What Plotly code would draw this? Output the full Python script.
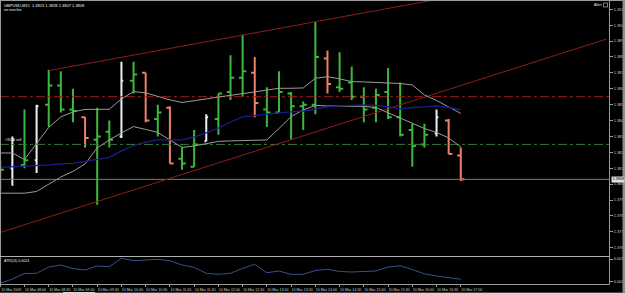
import plotly.graph_objects as go

W, H = 625, 293

# ---------------- data ----------------
symbol = "GBPUSD,M15"
times = ["07:30", "07:45", "08:00", "08:15", "08:30", "08:45", "09:00", "09:15", "09:30", "09:45",
         "10:00", "10:15", "10:30", "10:45", "11:00", "11:15", "11:30", "11:45", "12:00", "12:15",
         "12:30", "12:45", "13:00", "13:15", "13:30", "13:45", "14:00", "14:15", "14:30", "14:45",
         "15:00", "15:15", "15:30", "15:45", "16:00", "16:15", "16:30", "16:45", "17:00"]

opens = [1.3806, 1.3815, 1.3817, 1.3820, 1.3855, 1.3867, 1.3852, 1.3847, 1.3833, 1.3838,
         1.3835, 1.3870, 1.3875, 1.3846, 1.3853, 1.3821, 1.3816, 1.3832, 1.3846, 1.3863,
         1.3872, 1.3875, 1.3852, 1.3850, 1.3862, 1.3854, 1.3855, 1.3884, 1.3866, 1.3869,
         1.3860, 1.3853, 1.3863, 1.3847, 1.3839, 1.3830, 1.3837, 1.3845, 1.3823]
highs = [1.3820, 1.3835, 1.3852, 1.3855, 1.3877, 1.3876, 1.3865, 1.3847, 1.3853, 1.3845,
         1.3882, 1.3882, 1.3875, 1.3855, 1.3854, 1.3828, 1.3839, 1.3849, 1.3862, 1.3886,
         1.3899, 1.3885, 1.3866, 1.3876, 1.3863, 1.3857, 1.3907, 1.3889, 1.3888, 1.3879,
         1.3866, 1.3865, 1.3878, 1.3869, 1.3843, 1.3843, 1.3852, 1.3846, 1.3828]
lows = [1.3801, 1.3804, 1.3815, 1.3812, 1.3841, 1.3850, 1.3844, 1.3828, 1.3792, 1.3828,
        1.3834, 1.3862, 1.3844, 1.3835, 1.3818, 1.3814, 1.3816, 1.3832, 1.3836, 1.3858,
        1.3860, 1.3847, 1.3841, 1.3850, 1.3833, 1.3839, 1.3849, 1.3862, 1.3863, 1.3858,
        1.3844, 1.3844, 1.3846, 1.3835, 1.3816, 1.3828, 1.3835, 1.3824, 1.3807]
closes = [1.3814, 1.3833, 1.3820, 1.3854, 1.3867, 1.3852, 1.3851, 1.3834, 1.3835, 1.3833,
          1.3870, 1.3874, 1.3845, 1.3850, 1.3818, 1.3818, 1.3830, 1.3847, 1.3862, 1.3872,
          1.3876, 1.3856, 1.3850, 1.3863, 1.3854, 1.3855, 1.3885, 1.3868, 1.3865, 1.3860,
          1.3852, 1.3861, 1.3847, 1.3836, 1.3829, 1.3836, 1.3847, 1.3824, 1.3808]
# bar colouring: g = normal, w = white highlighted, o = orange highlighted
bar_style = ["g", "w", "g", "w", "g", "g", "g", "o", "g", "g",
             "w", "g", "o", "g", "o", "g", "g", "w", "g", "g",
             "g", "o", "g", "g", "g", "g", "g", "o", "g", "g",
             "g", "g", "g", "g", "g", "g", "w", "o", "o"]

band_upper = [1.38246, 1.38246, 1.38205, 1.38309, 1.38407, 1.38473, 1.38504, 1.38520, 1.38521, 1.38521,
              1.38586, 1.38632, 1.38624, 1.38602, 1.38580, 1.38564, 1.38573, 1.38586, 1.38598, 1.38608,
              1.38617, 1.38630, 1.38642, 1.38653, 1.38653, 1.38655, 1.38716, 1.38726, 1.38712, 1.38695,
              1.38693, 1.38691, 1.38688, 1.38683, 1.38674, 1.38611, 1.38576, 1.38536, 1.38495]
band_lower = [1.37993, 1.37993, 1.37993, 1.38004, 1.38048, 1.38095, 1.38130, 1.38177, 1.38278, 1.38328,
              1.38372, 1.38412, 1.38394, 1.38375, 1.38328, 1.38281, 1.38290, 1.38306, 1.38319, 1.38322,
              1.38325, 1.38328, 1.38328, 1.38400, 1.38475, 1.38517, 1.38545, 1.38542, 1.38542, 1.38540,
              1.38539, 1.38532, 1.38498, 1.38469, 1.38432, 1.38400, 1.38375, 1.38341, 1.38284]
ma_blue = [1.38156, 1.38159, 1.38163, 1.38166, 1.38171, 1.38177, 1.38181, 1.38193, 1.38205, 1.38218,
           1.38259, 1.38293, 1.38315, 1.38328, 1.38328, 1.38328, 1.38347, 1.38372, 1.38403, 1.38441,
           1.38473, 1.38482, 1.38488, 1.38498, 1.38504, 1.38510, 1.38523, 1.38536, 1.38542, 1.38546,
           1.38548, 1.38545, 1.38537, 1.38523, 1.38532, 1.38536, 1.38542, 1.38532, 1.38519]
atr = [0.002238, 0.002443, 0.002706, 0.002716, 0.003017, 0.003113, 0.002946, 0.002874, 0.003065, 0.003032,
       0.003433, 0.003319, 0.003352, 0.003386, 0.003319, 0.003113, 0.003003, 0.002716, 0.002668, 0.002716,
       0.002955, 0.003147, 0.002745, 0.002826, 0.002668, 0.002668, 0.002850, 0.002907, 0.002802, 0.002778,
       0.002802, 0.002826, 0.003017, 0.003080, 0.002898, 0.002692, 0.002587, 0.002525, 0.002429]

# trend lines (bar index, price)
upper_trend_x = [4, 40]
upper_trend_y = [1.38764, 1.39267]
lower_trend_x = [0, 50]
lower_trend_y = [1.37746, 1.38962]
level_red = 1.3860
level_green = 1.3830
order_label = "#3550 sell"

price_ticks = [1.3765, 1.3775, 1.3785, 1.3795, 1.3805, 1.3815, 1.3825, 1.3835, 1.3845,
               1.3855, 1.3865, 1.3875, 1.3885, 1.3895, 1.3905, 1.3915]
atr_ticks = [0.0023, 0.0034]
date_label = "10 Mar"
year_label = "2009"

# ---------------- styling ----------------
FONT = "Liberation Sans"
TXT = "#d0d0d0"
FRAME = "#9a9a9a"
COL = {"g": "#3cb93c", "w": "#e8f0fc", "o": "#ec806a"}

def px_x(px):
    return px / W

def px_y(py):
    return (H - py) / H

x_idx = list(range(len(times)))
x_lo, x_hi = -0.02, 50.23
main_dom = [px_y(256), px_y(1)]
atr_dom = [px_y(284), px_y(257)]
plot_right = 609

fig = go.Figure()

# horizontal levels
bid = closes[-1]
for lvl, col, dash in [(level_red, "#9a1e1e", "dashdot"), (level_green, "#357a35", "dashdot"), (bid, "#7a7a7a", "solid")]:
    fig.add_trace(go.Scatter(x=[x_lo, x_hi], y=[lvl, lvl], mode="lines",
                             line=dict(color=col, width=1, dash=dash), hoverinfo="skip",
                             xaxis="x", yaxis="y", showlegend=False))

# trend lines
for tx, ty in [(upper_trend_x, upper_trend_y), (lower_trend_x, lower_trend_y)]:
    fig.add_trace(go.Scatter(x=tx, y=ty, mode="lines", line=dict(color="#8e1c1c", width=1),
                             xaxis="x", yaxis="y", showlegend=False))

# bands and MA
for series, col, w in [(band_upper, "#9c9c9c", 1), (band_lower, "#9c9c9c", 1), (ma_blue, "#1c1c92", 1.3)]:
    fig.add_trace(go.Scatter(x=x_idx, y=series, mode="lines", line=dict(color=col, width=w),
                             xaxis="x", yaxis="y", showlegend=False))

# bars
for key in ["g", "w", "o"]:
    idx = [i for i, s in enumerate(bar_style) if s == key]
    diffs = [b - a for a, b in zip(idx[:-1], idx[1:])]
    mind = min(diffs) if diffs else 1
    fig.add_trace(go.Ohlc(
        x=idx, open=[opens[i] for i in idx], high=[highs[i] for i in idx],
        low=[lows[i] for i in idx], close=[closes[i] for i in idx],
        increasing=dict(line=dict(color=COL[key], width=2)),
        decreasing=dict(line=dict(color=COL[key], width=2)),
        tickwidth=0.3 / mind, xaxis="x", yaxis="y", showlegend=False))

# ATR
fig.add_trace(go.Scatter(x=x_idx, y=atr, mode="lines", line=dict(color="#34548c", width=1),
                         xaxis="x2", yaxis="y2", showlegend=False))

tick_vals = x_idx[::2]
tick_text = [f"{date_label} {year_label}" if i == 0 else f"{date_label} {times[i]}" for i in tick_vals]

fig.update_layout(
    width=W, height=H, autosize=False,
    margin=dict(l=0, r=0, t=0, b=0),
    paper_bgcolor="#000000", plot_bgcolor="#000000",
    font=dict(family=FONT, color=TXT, size=4),
    xaxis=dict(domain=[0, px_x(plot_right)], range=[x_lo, x_hi], anchor="y",
               showticklabels=False, showgrid=False, zeroline=False, ticks="",
               rangeslider=dict(visible=False)),
    xaxis2=dict(domain=[0, px_x(plot_right)], range=[x_lo, x_hi], anchor="y2", matches="x",
                tickvals=tick_vals, ticktext=tick_text, ticks="outside", ticklen=2,
                tickcolor=FRAME, tickfont=dict(size=3.6, color=TXT, family=FONT),
                ticklabelshift=11, ticklabelstandoff=0,
                showgrid=False, zeroline=False, rangeslider=dict(visible=False)),
    yaxis=dict(domain=main_dom, range=[1.37598, 1.39202], side="right", anchor="x",
               tickvals=price_ticks, ticktext=[f"{v:.4f}" for v in price_ticks],
               ticks="outside", ticklen=3, tickcolor=FRAME,
               tickfont=dict(size=3.8, color=TXT, family=FONT),
               showgrid=False, zeroline=False),
    yaxis2=dict(domain=atr_dom, range=[0.002204, 0.003496], side="right", anchor="x2",
                tickvals=atr_ticks, ticktext=[f"{v:.4f}" for v in atr_ticks],
                ticks="outside", ticklen=3, tickcolor=FRAME,
                tickfont=dict(size=3.8, color=TXT, family=FONT),
                showgrid=False, zeroline=False),
)

shapes = []
def hline(py, x0, x1, col=FRAME):
    shapes.append(dict(type="line", xref="paper", yref="paper", x0=px_x(x0), x1=px_x(x1),
                       y0=px_y(py), y1=px_y(py), line=dict(color=col, width=1), layer="above"))
def vline(px, y0, y1, col=FRAME):
    shapes.append(dict(type="line", xref="paper", yref="paper", x0=px_x(px), x1=px_x(px),
                       y0=px_y(y0), y1=px_y(y1), line=dict(color=col, width=1), layer="above"))

hline(0.5, 0, W)
vline(0.5, 0, 284.5)
vline(plot_right + 0.5, 0, 284.5)
hline(256.5, 0, plot_right + 0.5, "#b0b0b0")
hline(284.5, 0, plot_right + 0.5)
# window edges
shapes.append(dict(type="rect", xref="paper", yref="paper", x0=px_x(622.5), x1=1, y0=0, y1=1,
                   fillcolor="#8c8c8c", line=dict(width=0), layer="above"))
shapes.append(dict(type="rect", xref="paper", yref="paper", x0=0, x1=px_x(622.5), y0=0, y1=px_y(292),
                   fillcolor="#4a4a4a", line=dict(width=0), layer="above"))
shapes.append(dict(type="rect", xref="paper", yref="paper", x0=px_x(63), x1=px_x(95), y0=0, y1=px_y(292),
                   fillcolor="#d8d8d8", line=dict(width=0), layer="above"))
# alert box icon
shapes.append(dict(type="rect", xref="paper", yref="paper", x0=px_x(603.5), x1=px_x(607.5),
                   y0=px_y(7), y1=px_y(3), line=dict(color=TXT, width=0.6), layer="above"))
fig.update_layout(shapes=shapes)

ohlc_text = " ".join(f"{v:.4f}" for v in [opens[-1], highs[-1], lows[-1], closes[-1]])
ann = [
    dict(text=f"{symbol}  {ohlc_text}", xref="paper", yref="paper", x=px_x(2), y=px_y(5),
         xanchor="left", yanchor="middle", showarrow=False, font=dict(size=4, color="#f0f0f0", family=FONT)),
    dict(text="no new bar", xref="paper", yref="paper", x=px_x(2), y=px_y(9.5),
         xanchor="left", yanchor="middle", showarrow=False, font=dict(size=3.6, color="#f0f0f0", family=FONT)),
    dict(text="Alert", xref="paper", yref="paper", x=px_x(602.5), y=px_y(5),
         xanchor="right", yanchor="middle", showarrow=False, font=dict(size=3.6, color="#f0f0f0", family=FONT)),
    dict(text=order_label, xref="paper", yref="y", x=px_x(3), y=level_green + 0.00025,
         xanchor="left", yanchor="middle", showarrow=False, font=dict(size=3.6, color="#e0e0e0", family=FONT)),
    dict(text=f"{bid:.4f}", xref="paper", yref="y", x=px_x(plot_right + 1.5), y=bid,
         xanchor="left", yanchor="middle", showarrow=False, bgcolor="#dcdcdc", borderpad=0.4,
         font=dict(size=3.8, color="#000000", family=FONT)),
    dict(text=f"ATR(14) {atr[-1]:.4f}", xref="paper", yref="paper", x=px_x(2), y=px_y(261),
         xanchor="left", yanchor="middle", showarrow=False, font=dict(size=3.6, color="#e8e8e8", family=FONT)),
]
fig.update_layout(annotations=ann)

fig.write_html("out.html")
